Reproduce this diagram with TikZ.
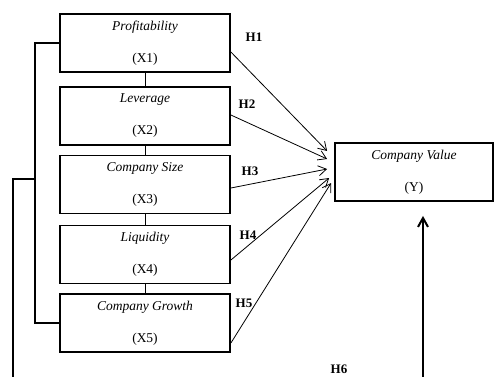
\documentclass[tikz,border=0pt]{standalone}
\usepackage{fontspec}
\setmainfont{Liberation Serif}
\usetikzlibrary{arrows.meta}
\begin{document}
\begin{tikzpicture}[x=1pt,y=-1pt,
  varbox/.style={draw,line width=1.8pt,minimum width=170pt,minimum height=58pt,inner sep=0pt,align=center,font=\fontsize{13.5}{16}\selectfont},
  ybox/.style={varbox,minimum width=158pt},
  hyp/.style={line width=0.8pt,-{Straight Barb[length=8pt,width=10pt]}},
  link/.style={line width=0.6pt},
  tree/.style={line width=1.8pt},
  hlab/.style={font=\fontsize{13}{15}\selectfont\bfseries,inner sep=0pt}]
\useasboundingbox (0,0) rectangle (496,376);
\node[varbox] (x1) at (145,43) {\textit{Profitability}\\[16pt](X1)};
\node[varbox] (x2) at (145,116) {\textit{Leverage}\\[16pt](X2)};
\node[varbox] (x3) at (145,184.5) {\textit{Company Size}\\[16pt](X3)};
\node[varbox] (x4) at (145,254.5) {\textit{Liquidity}\\[16pt](X4)};
\node[varbox] (x5) at (145,323) {\textit{Company Growth}\\[16pt](X5)};
\node[ybox] (y) at (414,172) {\textit{Company Value}\\[16pt](Y)};
\draw[link] (x1.south) -- (x2.north);
\draw[link] (x2.south) -- (x3.north);
\draw[link] (x3.south) -- (x4.north);
\draw[link] (x4.south) -- (x5.north);
\draw[hyp] ([yshift=-9pt]x1.east) -- ([xshift=-7pt,yshift=21pt]y.west);
\draw[hyp] ([yshift=1pt]x2.east) -- ([xshift=-7pt,yshift=13pt]y.west);
\draw[hyp] ([yshift=-3.5pt]x3.east) -- ([xshift=-7pt,yshift=3pt]y.west);
\draw[hyp] ([yshift=-5.5pt]x4.east) -- ([xshift=-5pt,yshift=-6pt]y.west);
\draw[hyp] ([yshift=-20pt]x5.east) -- ([xshift=-3pt,yshift=-11pt]y.west);
\draw[tree] (x1.west) -- ++(-24,0) |- (x5.west);
\coordinate (j) at (36,179);
\coordinate (b1) at (13,377);
\coordinate (b2) at (423,377);
\draw[tree] (b1) |- (j);
\draw[line width=2pt,-{Straight Barb[length=9pt,width=10pt]}] (b2) -- ([xshift=9pt,yshift=-14pt]y.south);
\node[hlab] (h1) at (254,37) {H1};
\node[hlab] (h2) at (247,104) {H2};
\node[hlab] (h3) at (250,171) {H3};
\node[hlab] (h4) at (248,235) {H4};
\node[hlab] (h5) at (244,303) {H5};
\node[hlab] (h6) at (339,369) {H6};
\end{tikzpicture}
\end{document}
